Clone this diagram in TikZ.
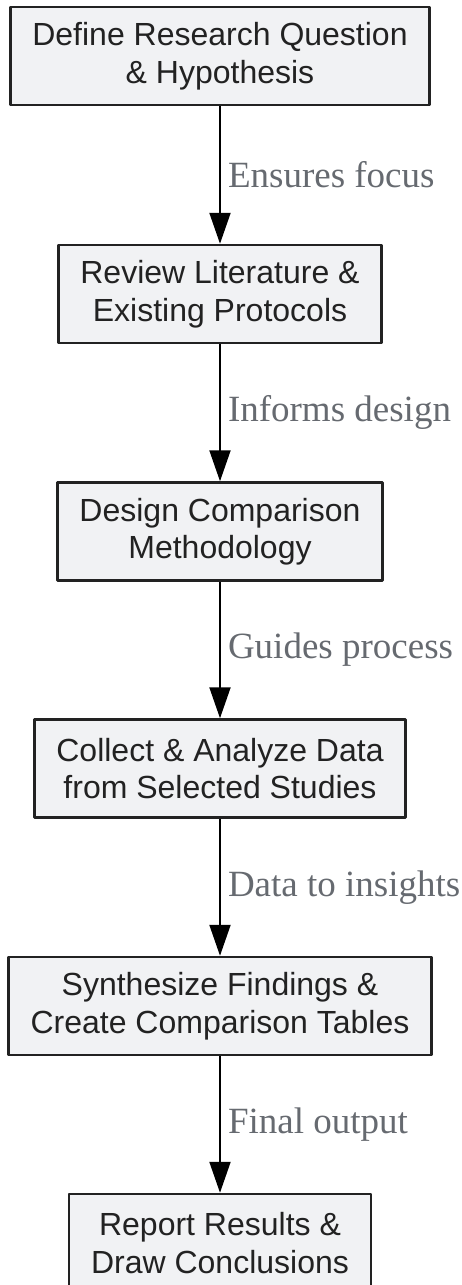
\documentclass[tikz,border=0pt]{standalone}
\usepackage{fontspec}
\setmainfont{Liberation Serif}
\setsansfont{Liberation Sans}
\usetikzlibrary{arrows.meta}
\definecolor{boxfill}{RGB}{241,242,244}
\definecolor{boxtext}{RGB}{34,34,34}
\definecolor{labelgray}{RGB}{102,106,112}

\begin{document}
\begin{tikzpicture}[
	x=1pt,y=1pt,
	>={Triangle[length=31pt,width=21pt]},
	line join=round,
	stepbox/.style={draw=boxtext,line width=2.5pt,fill=boxfill,align=center,
		minimum height=98pt,inner xsep=22pt,text=boxtext,
		font=\sffamily\fontsize{32}{37.5}\selectfont},
	edgelabel/.style={right,inner xsep=7pt,text=labelgray,
		font=\fontsize{37}{40}\selectfont}
	]
	\useasboundingbox (0,0) rectangle (462,-1285);
	\node[stepbox] (define) at (220,-56) {Define Research Question\\\& Hypothesis};
	\node[stepbox] (review) at (220,-294) {Review Literature \&\\Existing Protocols};
	\node[stepbox] (design) at (220,-531.5) {Design Comparison\\Methodology};
	\node[stepbox] (collect) at (220,-768.5) {Collect \& Analyze Data\\from Selected Studies};
	\node[stepbox] (synth) at (220,-1006) {Synthesize Findings \&\\Create Comparison Tables};
	\node[stepbox] (report) at (220,-1243) {Report Results \&\\Draw Conclusions};
	\begin{scope}[->,line width=2pt]
		\draw (define) -- (review) node[midway,edgelabel] {Ensures focus};
		\draw (review) -- (design) node[midway,edgelabel] {Informs design};
		\draw (design) -- (collect) node[midway,edgelabel] {Guides process};
		\draw (collect) -- (synth) node[midway,edgelabel] {Data to insights};
		\draw (synth) -- (report) node[midway,edgelabel] {Final output};
	\end{scope}
\end{tikzpicture}
\end{document}
